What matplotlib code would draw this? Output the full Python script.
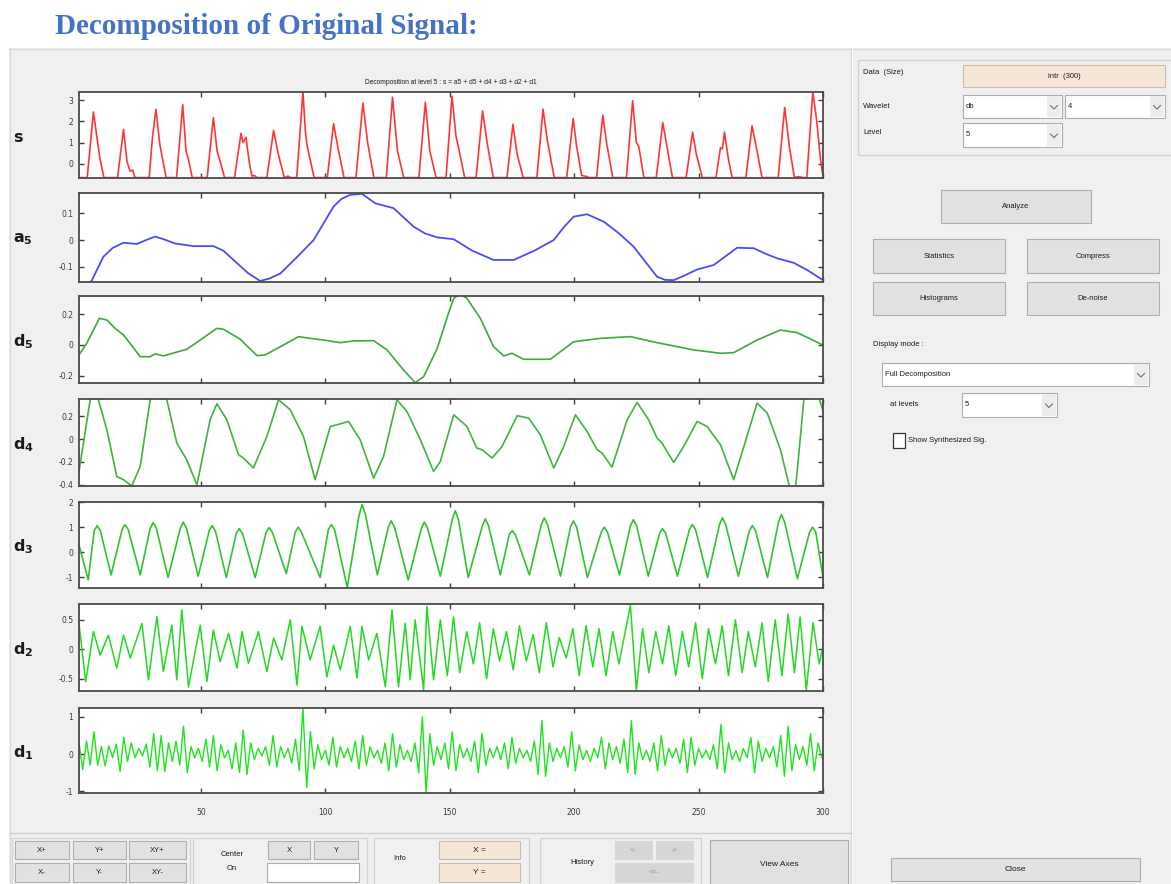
import numpy as np
import matplotlib
matplotlib.use("Agg")
import matplotlib.pyplot as plt
from matplotlib.patches import Rectangle

# ---------------------------------------------------------------------------
# Signal and its level-5 wavelet decomposition (vertices of each trace)
# ---------------------------------------------------------------------------
s_x = [1, 4.3, 6.8, 8.5, 9.5, 11,
       16.5, 18.9, 20.3, 21.5, 22.6, 23.5,
       29.2, 30.5, 31.9, 33.5, 36,
       40.2, 42.7, 44, 45, 46.5,
       52.5, 55.0, 56.5, 58, 59.5,
       63.5, 66.1, 66.9, 68.1, 69.5, 70.5, 71.5, 72.5,
       76.5, 79.2, 81, 83.5, 85, 86,
       88.5, 91.0, 92.0, 92.6, 93.5, 95.5,
       100.8, 103.3, 105, 107.5,
       112.3, 115.1, 117, 119.5,
       124.5, 127.0, 129, 131.5,
       137.6, 140.2, 142, 144.5,
       148.5, 150.9, 152.5, 154, 156,
       160.6, 163.2, 165, 167.5,
       173, 175.4, 177, 179.5,
       185, 187.5, 189.2, 190, 192,
       197, 199.6, 201, 203, 205, 206,
       209, 211.5, 213, 215.5,
       221, 223.5, 225, 226, 228,
       233, 235.6, 237, 239.5,
       245, 247.6, 249, 251.5,
       257, 258.8, 259.6, 260.4, 262, 263.5,
       269, 271.5, 273, 275.5,
       282, 284.6, 286.5, 288.5, 290, 292,
       293.5, 295.9, 297.5, 299, 300]
s_y = [-0.65, -0.65, 2.44, 1.0, 0.2, -0.65,
       -0.65, 1.62, 0.1, -0.35, -0.3, -0.65,
       -0.65, 1.2, 2.57, 0.9, -0.65,
       -0.65, 2.78, 0.6, 0.2, -0.65,
       -0.65, 2.17, 0.6, 0.0, -0.65,
       -0.65, 1.43, 1.0, 1.25, 0.0, -0.58, -0.55, -0.65,
       -0.65, 1.57, 0.5, -0.65, -0.58, -0.65,
       -0.65, 3.38, 1.5, 0.9, 0.4, -0.65,
       -0.65, 1.89, 0.8, -0.65,
       -0.65, 2.86, 1.0, -0.65,
       -0.65, 3.13, 0.6, -0.65,
       -0.65, 2.9, 0.6, -0.65,
       -0.65, 3.18, 1.3, 0.5, -0.65,
       -0.65, 2.49, 1.0, -0.65,
       -0.65, 1.86, 0.5, -0.65,
       -0.65, 2.57, 1.1, 0.6, -0.65,
       -0.65, 2.13, 0.8, -0.55, -0.6, -0.65,
       -0.65, 2.29, 1.0, -0.65,
       -0.65, 2.97, 1.0, 0.8, -0.65,
       -0.65, 1.94, 1.0, -0.65,
       -0.65, 1.49, 0.5, -0.65,
       -0.65, 0.76, 0.7, 1.49, 0.2, -0.65,
       -0.65, 1.78, 0.9, -0.65,
       -0.65, 2.65, 0.8, -0.65, -0.6, -0.65,
       -0.65, 3.38, 2.0, 0.2, -0.6]

a5_x = [1, 6.2, 10.8, 14.5, 18.9, 24.2, 28, 31.6, 35, 39.6, 47.0, 55.0, 59,
        63.1, 69, 73.8, 77.5, 81.9, 88, 95.3, 103.3, 106.5, 110, 114.7, 120.1,
        127.4, 135.5, 140, 144.9, 151.6, 159, 167.6, 175.7, 184, 191.8, 196,
        199.8, 205.2, 211.9, 218, 223.9, 233.3, 236.5, 240.0, 244, 249.4,
        256.1, 261, 265.5, 272.2, 277, 281.6, 288.3, 294, 300]
a5_y = [-0.22, -0.151, -0.063, -0.030, -0.010, -0.015, 0.000, 0.013, 0.003,
        -0.013, -0.023, -0.023, -0.040, -0.075, -0.125, -0.154, -0.145,
        -0.126, -0.070, 0.0, 0.126, 0.155, 0.170, 0.174, 0.138, 0.120, 0.050,
        0.025, 0.010, 0.003, -0.040, -0.075, -0.075, -0.040, 0.0, 0.050,
        0.088, 0.097, 0.069, 0.025, -0.025, -0.138, -0.150, -0.151, -0.135,
        -0.111, -0.094, -0.060, -0.029, -0.031, -0.052, -0.069, -0.086,
        -0.115, -0.151]

d5_x = [1, 4.1, 9.2, 12.2, 15.5, 18.9, 25.6, 29.6, 31.6, 34.9, 44.3, 49.7,
        56.4, 59.1, 65.8, 72.5, 75.8, 83.2, 89.2, 93.9, 99.3, 106.0, 111.3,
        119.4, 124.8, 131.4, 136.1, 139.5, 144.9, 149.5, 151.6, 154.2, 156.9,
        162.3, 167.6, 171.7, 175.0, 179.7, 190.4, 199.8, 210.5, 222.6, 233.3,
        248.0, 258.8, 264.1, 273.5, 282.9, 289.6, 300]
d5_y = [-0.065, 0.011, 0.173, 0.162, 0.108, 0.065, -0.076, -0.076, -0.058,
        -0.071, -0.028, 0.032, 0.108, 0.102, 0.037, -0.069, -0.065, 0.0, 0.054,
        0.043, 0.032, 0.015, 0.026, 0.028, -0.032, -0.162, -0.245, -0.206,
        -0.025, 0.206, 0.303, 0.33, 0.303, 0.173, -0.011, -0.071, -0.054,
        -0.093, -0.093, 0.021, 0.043, 0.054, 0.015, -0.032, -0.054, -0.050,
        0.032, 0.097, 0.080, 0.0]

d4_x = [1, 5.5, 7.2, 8.8, 12.2, 16.2, 18.9, 22.2, 25.6, 29.6, 33, 36.3, 40.3,
        44.3, 48.4, 53.7, 56.4, 60.4, 65.1, 67.1, 71.1, 76.5, 81.2, 85.9, 91.2,
        95.9, 102.0, 104.7, 109.3, 114.0, 119.4, 123.4, 128.8, 132.8, 138.2,
        143.5, 146.2, 151.6, 156.9, 160.9, 163.0, 167.0, 171.0, 177.1, 181.7,
        186.4, 191.8, 195.8, 200.5, 205.2, 209.2, 211.2, 215.2, 221.3, 225.3,
        229.9, 233.3, 235.3, 240.0, 244.0, 249.4, 253.4, 258.8, 264.1, 268.2,
        273.5, 277.6, 282.9, 286.9, 288.9, 292.3, 294.5, 297, 300]
d4_y = [-0.283, 0.343, 0.45, 0.343, 0.081, -0.327, -0.355, -0.41, -0.239,
        0.343, 0.5, 0.343, -0.035, -0.181, -0.40, 0.169, 0.308, 0.169, -0.137,
        -0.166, -0.253, 0.023, 0.343, 0.256, 0.023, -0.355, 0.110, 0.125,
        0.154, -0.006, -0.341, -0.152, 0.343, 0.241, -0.006, -0.283, -0.196,
        0.212, 0.110, -0.079, -0.093, -0.166, -0.065, 0.204, 0.183, 0.038,
        -0.253, -0.065, 0.212, 0.066, -0.093, -0.122, -0.245, 0.169, 0.320,
        0.169, 0.009, -0.035, -0.204, -0.065, 0.154, 0.110, -0.050, -0.355,
        -0.065, 0.314, 0.227, -0.093, -0.45, -0.45, 0.343, 0.6, 0.45, 0.25]

d3_x = [1, 4.7,
        7.1, 8.3, 9.6, 13.9, 18.3, 19.5, 20.8, 25.6,
        29.6, 30.8, 32.1, 36.8, 41.7, 42.9, 44.2, 48.9,
        53.3, 54.5, 55.8, 60.2, 64.2, 65.4, 66.7, 71.8,
        76.2, 77.4, 78.7, 84.3, 87.9, 89.1, 90.4, 97.9,
        101.2, 102.4, 103.7, 108.8, 113.6, 114.8, 116.1, 120.9,
        125.3, 126.5, 127.8, 133.3, 138.6, 139.8, 141.1, 146.2,
        151.0, 152.2, 153.5, 157.4, 163.1, 164.3, 165.6, 170.3,
        173.9, 175.1, 176.4, 182.0, 186.8, 188.0, 189.3, 194.5,
        198.5, 199.7, 201.0, 205.3, 210.9, 212.1, 213.4, 218.2,
        222.6, 223.8, 225.1, 229.8, 234.3, 235.5, 236.8, 241.5,
        246.3, 247.5, 248.8, 253.6, 258.4, 259.6, 260.9, 266.0,
        270.4, 271.6, 272.9, 277.7, 282.1, 283.3, 284.6, 289.7,
        294.6, 295.8, 297.1, 300]
d3_y = [0.3, -1.1,
        0.85, 1.06, 0.85, -0.9, 0.9, 1.1, 0.9, -0.9,
        0.95, 1.18, 0.95, -1.0, 0.95, 1.2, 0.95, -0.95,
        0.85, 1.06, 0.85, -1.0, 0.75, 0.94, 0.75, -1.0,
        0.8, 0.98, 0.8, -0.85, 0.8, 1.0, 0.8, -1.0,
        0.9, 1.1, 0.9, -1.4, 1.5, 1.9, 1.5, -0.9,
        1.0, 1.25, 1.0, -1.1, 0.95, 1.2, 0.95, -0.95,
        1.3, 1.65, 1.3, -1.0, 1.05, 1.33, 1.05, -0.9,
        0.7, 0.86, 0.7, -0.9, 1.1, 1.37, 1.1, -0.95,
        1.0, 1.25, 1.0, -1.0, 0.8, 1.0, 0.8, -0.9,
        1.05, 1.3, 1.05, -0.95, 0.75, 0.94, 0.75, -0.95,
        0.9, 1.1, 0.9, -1.0, 1.1, 1.37, 1.1, -0.95,
        0.85, 1.06, 0.85, -1.0, 1.2, 1.5, 1.2, -1.05,
        0.8, 1.0, 0.8, -1.0]

d2_x = [1, 3.7, 6.8, 9.5, 12.8, 16.2, 18.9, 21.6, 26.3, 28.9, 32.3, 34.9,
        38.3, 40.3, 42.3, 45.0, 49.7, 52.4, 55.0, 57.7, 61.1, 64.5, 66.5,
        69.1, 73.1, 76.5, 79.2, 82.5, 85.9, 88.6, 90.6, 93.9, 97.9, 100.6,
        103.3, 106.0, 110.0, 112.7, 114.7, 117.4, 120.7, 124.1, 126.8, 129.4,
        132.1, 134.1, 136.1, 139.5, 140.8, 143.5, 146.2, 149.0, 151.5, 154.0,
        156.8, 159.5, 162.0, 164.8, 167.5, 170.0, 172.8, 175.5, 178.0, 180.8,
        183.5, 186.0, 188.8, 191.5, 194.0, 196.8, 199.5, 202.0, 204.8, 207.5,
        210.0, 212.8, 215.5, 218.0, 222.6, 225.0, 227.5, 230.0, 232.8, 235.5,
        238.0, 240.8, 243.5, 246.0, 248.8, 251.5, 254.0, 256.8, 259.5, 262.0,
        264.8, 267.5, 270.0, 272.8, 275.5, 278.0, 280.8, 283.5, 286.0, 288.5,
        290.8, 293.3, 296.0, 298.5, 300]
d2_y = [0.44, -0.55, 0.30, -0.10, 0.24, -0.32, 0.24, -0.15, 0.44, -0.52, 0.56,
        -0.38, 0.41, -0.52, 0.67, -0.64, 0.41, -0.55, 0.33, -0.21, 0.27, -0.32,
        0.30, -0.24, 0.30, -0.38, 0.19, -0.18, 0.50, -0.61, 0.39, -0.18, 0.39,
        -0.47, 0.07, -0.35, 0.39, -0.49, 0.39, -0.18, 0.27, -0.64, 0.67, -0.64,
        0.44, -0.52, 0.50, -0.69, 0.73, -0.52, 0.50, -0.45, 0.55, -0.40, 0.30,
        -0.25, 0.45, -0.50, 0.35, -0.20, 0.30, -0.35, 0.40, -0.20, 0.25, -0.40,
        0.45, -0.30, 0.20, -0.15, 0.35, -0.45, 0.40, -0.30, 0.35, -0.45, 0.30,
        -0.25, 0.75, -0.70, 0.35, -0.40, 0.30, -0.25, 0.40, -0.45, 0.30, -0.30,
        0.45, -0.50, 0.35, -0.25, 0.40, -0.45, 0.50, -0.40, 0.30, -0.30, 0.45,
        -0.55, 0.50, -0.45, 0.60, -0.40, 0.55, -0.70, 0.45, -0.25, 0.05]

# level-1 detail: one extremum every 1.5 samples
d1_x = np.arange(1, 300, 1.5)
d1_y = [0.30, -0.42, 0.35, -0.30, 0.60, -0.30, 0.20, -0.32, 0.22, -0.10,
        0.27, -0.47, 0.45, -0.20, 0.30, -0.10, 0.15, -0.05, 0.27, -0.35,
        0.55, -0.45, 0.50, -0.47, 0.30, -0.20, 0.35, -0.30, 0.75, -0.50,
        0.20, -0.10, 0.15, -0.20, 0.40, -0.35, 0.50, -0.45, 0.25, -0.10,
        0.10, -0.40, 0.30, -0.50, 0.65, -0.55, 0.30, -0.15, 0.15, -0.05,
        0.20, -0.30, 0.50, -0.35, 0.20, -0.10, 0.15, -0.25, 0.40, -0.45,
        1.24, -0.90, 0.60, -0.40, 0.25, -0.15, 0.10, -0.30, 0.45, -0.35,
        0.20, -0.10, 0.15, -0.20, 0.35, -0.40, 0.50, -0.30, 0.20, -0.10,
        0.10, -0.25, 0.30, -0.45, 0.55, -0.35, 0.25, -0.15, 0.10, -0.20,
        0.30, -0.50, 1.00, -1.05, 0.55, -0.30, 0.20, -0.15, 0.30, -0.40,
        0.60, -0.45, 0.25, -0.10, 0.15, -0.20, 0.35, -0.50, 0.55, -0.30,
        0.15, -0.10, 0.20, -0.15, 0.30, -0.40, 0.45, -0.25, 0.15, -0.10,
        0.10, -0.20, 0.35, -0.55, 0.90, -0.60, 0.30, -0.20, 0.15, -0.10,
        0.20, -0.35, 0.60, -0.45, 0.25, -0.15, 0.10, -0.20, 0.15, -0.10,
        0.45, -0.40, 0.30, -0.15, 0.20, -0.25, 0.40, -0.50, 0.90, -0.55,
        0.30, -0.15, 0.10, -0.20, 0.30, -0.45, 0.50, -0.30, 0.15, -0.10,
        0.15, -0.25, 0.40, -0.50, 0.45, -0.30, 0.15, -0.10, 0.10, -0.15,
        0.25, -0.40, 0.80, -0.50, 0.30, -0.15, 0.10, -0.20, 0.15, -0.10,
        0.45, -0.50, 0.35, -0.20, 0.15, -0.10, 0.20, -0.35, 0.50, -0.60,
        0.75, -0.45, 0.25, -0.15, 0.20, -0.30, 0.55, -0.45, 0.30, -0.10]

x_ticks = [50, 100, 150, 200, 250, 300]
x_tick_labels = ['50', '100', '150', '200', '250', '300']

# ---------------------------------------------------------------------------
# Figure and window background (pixel coordinates)
# ---------------------------------------------------------------------------
W, H = 1171, 884
fig = plt.figure(figsize=(W / 100, H / 100), dpi=100, facecolor='white')
plt.rcParams['font.family'] = ['DejaVu Sans']

bg = fig.add_axes([0, 0, 1, 1], zorder=-10)
bg.set_xlim(0, W)
bg.set_ylim(H, 0)
bg.axis('off')

GRAY = '#f0f0f0'
UI_FONT = 'Liberation Sans'


def box(x0, y0, x1, y1, fc=GRAY, ec='none', lw=0.8, z=1):
    bg.add_patch(Rectangle((x0, y0), x1 - x0, y1 - y0, facecolor=fc,
                           edgecolor=ec, linewidth=lw, zorder=z))


def label(x, y, txt, ha='left', fs=5.5, color='#1a1a1a'):
    bg.text(x, y, txt, ha=ha, va='center', fontsize=fs, color=color,
            family=UI_FONT, zorder=5)


def button(x0, y0, x1, y1, txt, fc='#e1e1e1', ec='#adadad', tc='#1a1a1a', fs=5.5):
    box(x0, y0, x1, y1, fc=fc, ec=ec, lw=0.8, z=3)
    bg.text((x0 + x1) / 2, (y0 + y1) / 2, txt, ha='center', va='center',
            fontsize=fs, color=tc, family=UI_FONT, zorder=4)


def dropdown(x0, y0, x1, y1, txt):
    box(x0, y0, x1, y1, fc='white', ec='#acacac', z=3)
    box(x1 - 15, y0 + 1, x1 - 1, y1 - 1, fc='#ededed', z=3.5)
    cx, cy = x1 - 8, (y0 + y1) / 2 + 1
    bg.plot([cx - 3.5, cx, cx + 3.5], [cy - 2, cy + 1.5, cy - 2],
            color='#6d6d6d', lw=0.8, zorder=4)
    bg.text(x0 + 3, (y0 + y1) / 2, txt, ha='left', va='center', fontsize=5.5,
            color='#1a1a1a', family=UI_FONT, zorder=4)


# window body
box(9, 48, W, H, fc=GRAY, ec='none', z=0)
bg.plot([9, W], [48.5, 48.5], color='#d8d8d8', lw=1.0, zorder=1)
bg.plot([9.5, 9.5], [48, H], color='#d8d8d8', lw=1.0, zorder=1)
# separators between plot area, control panel and toolbar
bg.plot([851, 851], [48, H], color='#d0d0d0', lw=1.0, zorder=1)
bg.plot([852, 852], [48, H], color='#fafafa', lw=1.0, zorder=1)
bg.plot([10, 851], [833, 833], color='#d0d0d0', lw=1.0, zorder=1)

# heading
bg.text(55, 27, 'Decomposition of Original Signal:', ha='left', va='center',
        fontsize=21, fontweight='bold', family='Liberation Serif',
        color='#4472c4', zorder=5)

# ---- right control panel ----
box(858, 60, 1172, 155, fc=GRAY, ec='#cfcfcf', lw=0.9, z=2)
label(863, 72, 'Data  (Size)')
button(963, 65, 1165, 87, 'intr  (300)', fc='#f6e6d6', ec='#cdbcab')
label(863, 106, 'Wavelet')
dropdown(963, 95, 1062, 118, 'db')
dropdown(1065, 95, 1165, 118, '4')
label(863, 132, 'Level')
dropdown(963, 123, 1062, 147, '5')

button(941, 190, 1091, 223, 'Analyze')
button(873, 239, 1005, 273, 'Statistics')
button(1027, 239, 1159, 273, 'Compress')
button(873, 282, 1005, 315, 'Histograms')
button(1027, 282, 1159, 315, 'De-noise')

label(873, 345, 'Display mode :')
dropdown(882, 363, 1149, 386, 'Full Decomposition')
label(890, 404, 'at levels')
dropdown(962, 393, 1057, 417, '5')
box(893, 433, 905, 448, fc='white', ec='#333333', lw=0.9, z=3)
label(908, 440, 'Show Synthesized Sig.')

button(891, 858, 1140, 881, 'Close', fs=6)

# ---- bottom toolbar ----
for gx0, gx1 in [(12, 190), (193, 367), (374, 529), (540, 701)]:
    box(gx0, 838, gx1, H + 5, fc=GRAY, ec='#d2d2d2', lw=0.9, z=2)

row1, row2 = (841, 859), (863, 882)
for (bx0, bx1), t1, t2 in [((15, 69), 'X+', 'X-'), ((73, 126), 'Y+', 'Y-'),
                           ((129, 186), 'XY+', 'XY-')]:
    button(bx0, row1[0], bx1, row1[1], t1)
    button(bx0, row2[0], bx1, row2[1], t2)

label(232, 854, 'Center', ha='center')
label(232, 869, 'On', ha='center')
button(268, row1[0], 310, row1[1], 'X')
button(314, row1[0], 358, row1[1], 'Y')
box(267, row2[0], 359, row2[1], fc='white', ec='#acacac', z=3)

label(400, 859, 'Info', ha='center')
button(439, row1[0], 520, row1[1], 'X =', fc='#f6e6d6', ec='#cdbcab', fs=6)
button(439, row2[0], 520, row2[1], 'Y =', fc='#f6e6d6', ec='#cdbcab', fs=6)

label(582, 862, 'History', ha='center')
button(615, row1[0], 652, row1[1], '<-', fc='#d6d6d6', ec='#d6d6d6', tc='#9a9a9a')
button(656, row1[0], 693, row1[1], '->', fc='#d6d6d6', ec='#d6d6d6', tc='#9a9a9a')
button(615, row2[0], 693, row2[1], '<<-', fc='#d6d6d6', ec='#d6d6d6', tc='#9a9a9a')

button(710, 840, 848, H + 5, 'View Axes', fs=6)

# ---------------------------------------------------------------------------
# Decomposition axes
# ---------------------------------------------------------------------------
L, R = 79, 823


def px_axes(top, bottom):
    return fig.add_axes([L / W, 1 - bottom / H, (R - L) / W, (bottom - top) / H])


panels = [
    # label, x, y, colour, width, ylim, yticks, yticklabels, top, bottom
    (r'$\mathbf{s}$', s_x, s_y, '#ff3535', 1.2, (-0.67, 3.38), [0, 1, 2, 3],
     ['0', '1', '2', '3'], 92, 178),
    (r'$\mathbf{a_5}$', a5_x, a5_y, '#4c4cf5', 1.3, (-0.158, 0.177), [-0.1, 0, 0.1],
     ['-0.1', '0', '0.1'], 193, 282),
    (r'$\mathbf{d_5}$', d5_x, d5_y, '#3fa83f', 1.2, (-0.247, 0.318), [-0.2, 0, 0.2],
     ['-0.2', '0', '0.2'], 296, 383),
    (r'$\mathbf{d_4}$', d4_x, d4_y, '#3fb43f', 1.2, (-0.41, 0.35), [-0.4, -0.2, 0, 0.2],
     ['-0.4', '-0.2', '0', '0.2'], 399, 486),
    (r'$\mathbf{d_3}$', d3_x, d3_y, '#2fc42f', 1.2, (-1.42, 2.0), [-1, 0, 1, 2],
     ['-1', '0', '1', '2'], 502, 588),
    (r'$\mathbf{d_2}$', d2_x, d2_y, '#24d824', 1.1, (-0.71, 0.77), [-0.5, 0, 0.5],
     ['-0.5', '0', '0.5'], 604, 691),
    (r'$\mathbf{d_1}$', d1_x, d1_y, '#1ee41e', 1.0, (-1.05, 1.24), [-1, 0, 1],
     ['-1', '0', '1'], 708, 793),
]

for i, (name, xs, ys, col, lw, ylim, yt, ytl, top, bottom) in enumerate(panels):
    ax = px_axes(top, bottom)
    ax.set_facecolor('white')
    ax.plot(xs, ys, color=col, lw=lw, solid_joinstyle='round')
    ax.set_xlim(1, 300)
    ax.set_ylim(*ylim)
    ax.set_xticks(x_ticks)
    ax.set_yticks(yt)
    ax.set_yticklabels(ytl)
    if i == len(panels) - 1:
        ax.set_xticklabels(x_tick_labels)
    else:
        ax.set_xticklabels([])
    ax.tick_params(direction='in', length=3.5, width=1.0, color='#3c3c3c',
                   top=True, right=True, labelsize=5.5, labelcolor='#3a3a3a')
    ax.tick_params(axis='x', pad=11)
    ax.tick_params(axis='y', pad=4)
    for sp in ax.spines.values():
        sp.set_color('#4a4a4a')
        sp.set_linewidth(1.3)
    bg.text(13, (top + bottom) / 2 + 2, name, ha='left', va='center',
            fontsize=11.5, color='#1a1a1a', zorder=5)

bg.text((L + R) / 2, 82, 'Decomposition at level 5 : s = a5 + d5 + d4 + d3 + d2 + d1',
        ha='center', va='center', fontsize=4.8, color='#1a1a1a',
        family=UI_FONT, zorder=5)

fig.savefig('out.png', dpi=100, facecolor=fig.get_facecolor())
